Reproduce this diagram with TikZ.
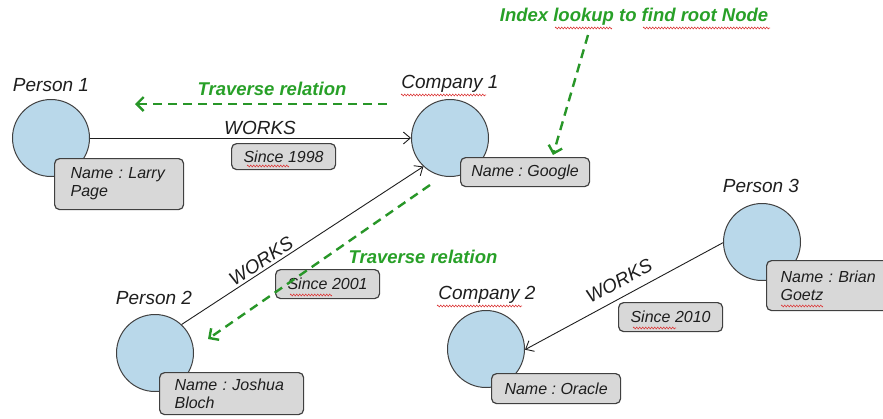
\documentclass[tikz,border=0pt]{standalone}
\usepackage{fontspec}
\setmainfont{Liberation Sans}
\usetikzlibrary{arrows.meta,decorations.pathmorphing}
\definecolor{nodeblue}{RGB}{185,216,234}
\definecolor{boxgray}{RGB}{216,216,216}
\definecolor{edgegray}{RGB}{64,64,64}
\definecolor{tgreen}{RGB}{40,160,40}
\definecolor{agreen}{RGB}{40,150,40}
\definecolor{ink}{RGB}{30,30,30}
\definecolor{spellred}{RGB}{220,60,60}
\frenchspacing
\begin{document}
\begin{tikzpicture}[x=1pt,y=-1pt,
 ent/.style={circle, draw=edgegray, line width=1pt, fill=nodeblue, minimum size=77pt, inner sep=0pt},
 ttl/.style={font=\fontsize{19}{22}\selectfont\itshape, text=ink, inner sep=0pt},
 prop/.style={rectangle, rounded corners=5pt, draw=edgegray, line width=1.2pt, fill=boxgray,
   font=\fontsize{16}{18}\selectfont\itshape, text=ink, inner ysep=0pt, anchor=north west},
 propc/.style={prop, inner xsep=0pt, align=center},
 rel/.style={draw=ink, line width=0.9pt, -{Straight Barb[length=7pt,width=12pt]}},
 rlbl/.style={font=\fontsize{19}{22}\selectfont\itshape, text=ink, inner sep=0pt},
 trav/.style={draw=agreen, line width=2.4pt, dash pattern=on 9pt off 6pt,
   -{Straight Barb[length=7pt,width=14pt,line width=2.4pt]}},
 glbl/.style={font=\fontsize{18.5}{22}\selectfont\bfseries\itshape, text=tgreen, inner sep=0pt},
 squig/.style={draw=spellred, line width=0.6pt, decorate,
   decoration={zigzag, segment length=3pt, amplitude=0.9pt}},
]
\useasboundingbox (0,0) rectangle (883,418);
% entity circles
\node[ent] (p1) at (51,138) {};
\node[ent] (c1) at (450,138) {};
\node[ent] (p2) at (155,353) {};
\node[ent] (p3) at (762,242) {};
\node[ent] (c2) at (486,349) {};
% titles
\node[ttl] (p1t) at (51,85) {Person 1};
\node[ttl] (c1t) at (450,84) {Company 1};
\node[ttl] (p2t) at (154,298) {Person 2};
\node[ttl] (p3t) at (761,186) {Person 3};
\node[ttl] (c2t) at (487,295) {Company 2};
% property boxes
\node[prop, inner xsep=16pt, minimum width=129pt, minimum height=51pt, text width=97pt, align=left] (b1) at (54,158) {Name : Larry\\Page};
\node[propc, minimum width=129pt, minimum height=29pt] (b2) at (460,157) {Name : Google};
\node[prop, inner xsep=15pt, minimum width=144pt, minimum height=42pt, text width=114pt, align=left] (b3) at (159,372) {Name : Joshua\\Bloch};
\node[propc, minimum width=129pt, minimum height=30pt] (b4) at (491,373) {Name : Oracle};
\node[prop, inner xsep=14pt, minimum width=132pt, minimum height=50pt, text width=104pt, align=left] (b5) at (766,260) {Name : Brian\\Goetz};
\node[propc, minimum width=104pt, minimum height=26pt] (s1) at (231,143) {Since 1998};
\node[propc, minimum width=104pt, minimum height=29pt] (s2) at (275,269) {Since 2001};
\node[propc, minimum width=104pt, minimum height=29pt] (s3) at (618,302) {Since 2010};
% relations
\draw[rel] (p1) -- (c1);
\draw[rel] (p2.47) -- (c1.227);
\draw[rel] (p3.181) -- (c2.359);
\node[rlbl] (w1) at (260,128) {WORKS};
\node[rlbl, rotate=33] (w2) at (261,261) {WORKS};
\node[rlbl, rotate=28] (w3) at (619,281) {WORKS};
% traversal annotations
\node[glbl] (tr1) at (272,89) {Traverse relation};
\node[glbl] (tr2) at (423,257) {Traverse relation};
\node[glbl] (idx) at (634,17) {Index lookup to find root Node};
\coordinate (tr1s) at (387,104);
\coordinate (tr1e) at (135,104);
\coordinate (idxs) at (588,35);
\coordinate (idxe) at (553,155);
\coordinate (tr2s) at (430,185);
\coordinate (tr2e) at (208,339);
\draw[trav] (tr1s) -- (tr1e);
\draw[trav] (idxs) -- (idxe);
\draw[trav] (tr2s) -- (tr2e);
% spell-check underlines
\draw[squig] (401,95) -- (486,95);
\draw[squig] (437,306) -- (522,306);
\draw[squig] (555,28) -- (612,28);
\draw[squig] (643,28) -- (770,28);
\draw[squig] (247,166) -- (289,166);
\draw[squig] (290,295) -- (332,295);
\draw[squig] (633,328) -- (676,328);
\draw[squig] (781,306) -- (823,306);
\end{tikzpicture}
\end{document}
